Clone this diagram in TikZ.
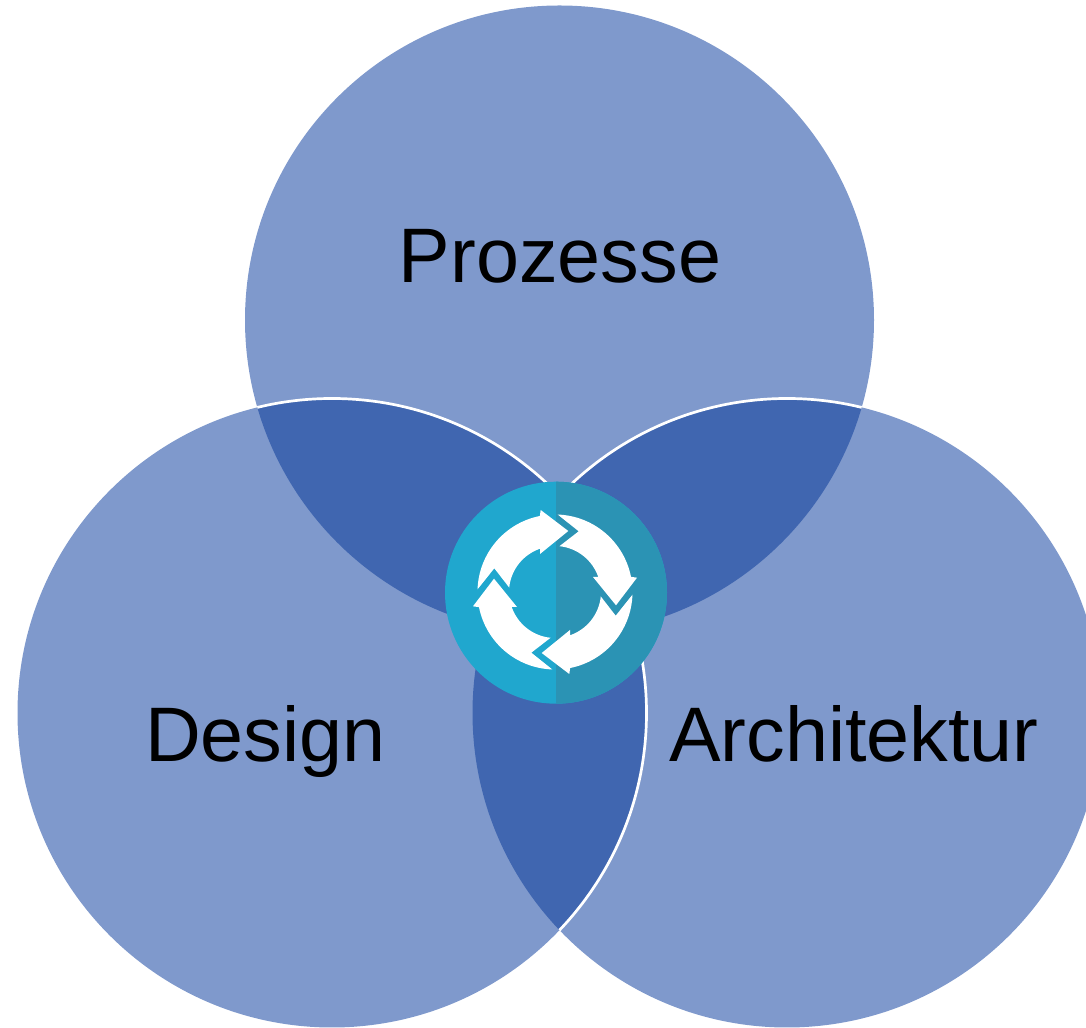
\documentclass[tikz,border=0pt]{standalone}
\usepackage{fontspec}
\setmainfont{Liberation Sans}
\definecolor{vennlight}{HTML}{7F99CC}
\definecolor{venndark}{HTML}{4066B0}
\definecolor{disclight}{HTML}{20A7CE}
\definecolor{discdark}{HTML}{2B93B4}
\tikzstyle{vennlabel} = [anchor=base, inner sep=0pt, text=black, font=\fontsize{44}{50}\selectfont]
\tikzstyle{seam} = [draw=white, line width=0.054cm]
\def\vennrad{314.5}

\begin{document}
\begin{tikzpicture}[x=0.02cm, y=0.02cm,
		cycarrow/.style={
			fill=white}]
		\useasboundingbox (0,0) rectangle (1086,1028);

		\coordinate (top) at (559.5,708);
		\coordinate (left) at (332,315);
		\coordinate (right) at (787,315);
		\coordinate (hub) at (556,435.3);
		\coordinate (ring) at (555,436);

		\fill [vennlight] (top) circle [radius=\vennrad];
		\fill [vennlight] (left) circle [radius=\vennrad];
		\fill [vennlight] (right) circle [radius=\vennrad];

		% overlaps
		\begin{scope}
			\clip (top) circle [radius=\vennrad];
			\fill [venndark] (left) circle [radius=\vennrad];
			\fill [venndark] (right) circle [radius=\vennrad];
			\draw [seam] (left) circle [radius=\vennrad];
			\draw [seam] (right) circle [radius=\vennrad];
		\end{scope}
		\begin{scope}
			\clip (left) circle [radius=\vennrad];
			\fill [venndark] (right) circle [radius=\vennrad];
		\end{scope}
		\begin{scope}
			\clip (right) circle [radius=\vennrad];
			\draw [seam] (left) circle [radius=\vennrad];
		\end{scope}

		% hub
		\fill [disclight] (hub) circle [radius=111];
		\fill [discdark] (556,324.3) arc [start angle=-90, end angle=90, radius=111] -- cycle;
		\foreach \turn in {0,-90,-180,-270} {
			\begin{scope}[shift={(ring)}, rotate=\turn]
				\fill [cycarrow] (178:77.5) arc [start angle=178, end angle=101.3, radius=77.5]
					-- (-14.3,82) -- (13.3,61) -- (-15,38) -- (-15,43.3)
					arc [start angle=109, end angle=174.2, radius=46]
					-- (-60.7,23.7) -- cycle;
			\end{scope}
		}

		\node (prozesse) [vennlabel] at (560,745) {Prozesse};
		\node (design) [vennlabel] at (265.5,266) {Design};
		\node (architektur) [vennlabel] at (854,266) {Architektur};
	\end{tikzpicture}
\end{document}
